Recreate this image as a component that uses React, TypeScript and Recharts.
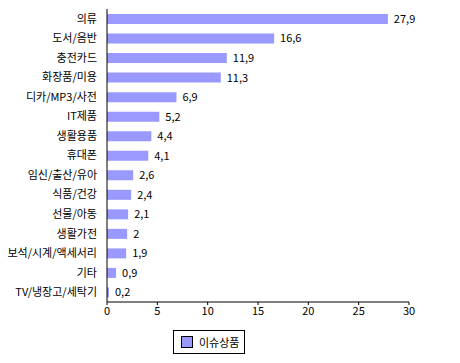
import React from 'react';
import { BarChart, Bar, XAxis, YAxis, Legend, LabelList } from 'recharts';

const categories = [
  '의류', '도서/음반', '충전카드', '화장품/미용', '디카/MP3/사전', 'IT제품', '생활용품', '휴대폰',
  '임신/출산/유아', '식품/건강', '선물/아동', '생활가전', '보석/시계/액세서리', '기타', 'TV/냉장고/세탁기',
];
const values = [27.9, 16.6, 11.9, 11.3, 6.9, 5.2, 4.4, 4.1, 2.6, 2.4, 2.1, 2, 1.9, 0.9, 0.2];
const xTicks = [0, 5, 10, 15, 20, 25, 30];
const seriesName = '이슈상품';

const data = categories.map((name, i) => ({ name, value: values[i] }));

const font = '"Noto Sans CJK KR", "Noto Sans", sans-serif';

const LegendBox = () => (
  <div
    style={{
      display: 'flex',
      alignItems: 'center',
      border: '1px solid #000',
      width: 72,
      height: 24,
      boxSizing: 'border-box',
      paddingLeft: 7,
      fontFamily: font,
      fontSize: 11,
      color: '#000',
    }}
  >
    <span style={{ width: 10, height: 10, background: '#9999ff', border: '1px solid #000', marginRight: 6 }} />
    {seriesName}
  </div>
);

const App: React.FC = () => (
  <div style={{ position: 'fixed', left: 0, top: 0, width: 460, height: 363, background: '#fff' }}>
    <BarChart
      width={460}
      height={363}
      data={data}
      layout="vertical"
      margin={{ top: 9, right: 51, bottom: 17, left: 0 }}
    >
      <XAxis
        type="number"
        domain={[0, 30]}
        ticks={xTicks}
        interval={0}
        tickSize={3}
        stroke="#000"
        tick={{ fill: '#000', fontSize: 11, fontFamily: font }}
        height={20}
      />
      <YAxis
        type="category"
        dataKey="name"
        width={107}
        tickLine={false}
        stroke="#000"
        interval={0}
        tick={{ fill: '#000', fontSize: 11, fontFamily: font, dx: -2 }}
      />
      <Legend
        content={<LegendBox />}
        wrapperStyle={{ position: 'absolute', left: 173, top: 330, width: 72, height: 24 }}
      />
      <Bar dataKey="value" name={seriesName} fill="#9999ff" barSize={10} isAnimationActive={false}>
        <LabelList
          dataKey="value"
          position="right"
          offset={6}
          formatter={(v: number) => String(v).replace('.', ',')}
          style={{ fill: '#000', fontSize: 11, fontFamily: font }}
        />
      </Bar>
    </BarChart>
  </div>
);

export default App;
